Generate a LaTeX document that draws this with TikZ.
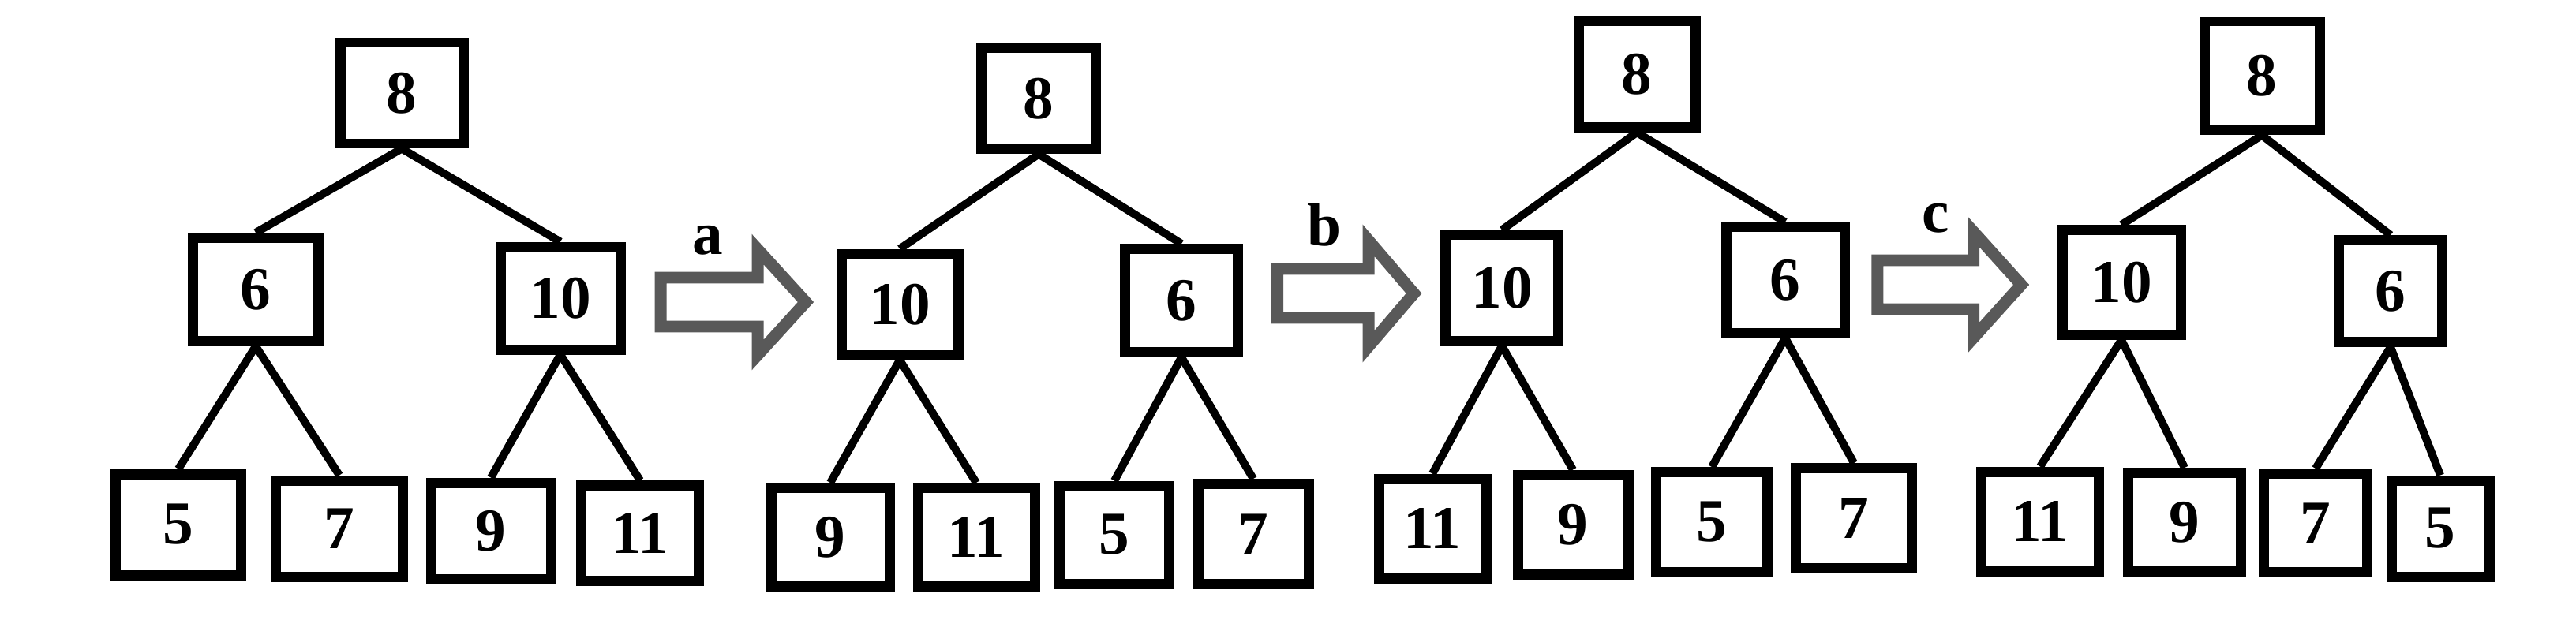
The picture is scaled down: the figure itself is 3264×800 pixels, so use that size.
\documentclass[tikz,border=0pt]{standalone}
\usepackage{fontspec}
\setmainfont{Liberation Serif}
\begin{document}
\begin{tikzpicture}[x=0.005cm,y=-0.005cm,
  box/.style={draw, rectangle, line width=0.065cm, inner sep=0pt,
    font=\fontsize{11}{13}\selectfont\bfseries,
    minimum width={(158-13)*0.005cm}, minimum height={(141-13)*0.005cm}},
  bw/.style={minimum width={(#1-13)*0.005cm}},
  bh/.style={minimum height={(#1-13)*0.005cm}},
  edge/.style={line width=0.05cm},
  lbl/.style={font=\fontsize{11}{13}\selectfont\bfseries, inner sep=0pt},
  hollow/.style={draw=black!65, line width=0.075cm, line join=miter},
  hollowarrow/.pic={\draw[hollow] (7,-31) -- (130,-31) -- (130,-67) -- (191,0) -- (130,67) -- (130,31) -- (7,31) -- cycle;}
]
\useasboundingbox (0,0) rectangle (3264,800);

% ---------- tree 1 ----------
\node[box,bw=169] (a8)  at (509,118) {8};
\node[box,bw=172,bh=144] (a6)  at (324,367) {6};
\node[box,bw=165,bh=143] (a10) at (710,378) {10};
\node[box,bw=172] (a5)  at (226,665) {5};
\node[box,bw=173,bh=135] (a7)  at (430,670) {7};
\node[box,bw=165,bh=135] (a9)  at (622,673) {9};
\node[box,bw=162,bh=134] (a11) at (811,676) {11};
\draw[edge] (a8.south) -- (a6.north);
\draw[edge] (a8.south) -- (a10.north);
\draw[edge] (a6.south) -- (a5.north);
\draw[edge] (a6.south) -- (a7.north);
\draw[edge] (a10.south) -- (a9.north);
\draw[edge] (a10.south) -- (a11.north);

% ---------- arrow a ----------
\coordinate (pa) at (830,383);
\pic at (pa) {hollowarrow};
\node[lbl] (la) at (897,305) {a};

% ---------- tree 2 ----------
\node[box] (b8)  at (1316,125) {8};
\node[box,bw=161] (b10) at (1140,386) {10};
\node[box,bw=156,bh=144] (b6)  at (1497,381) {6};
\node[box,bw=163,bh=138] (b9)  at (1052,681) {9};
\node[box,bw=161,bh=138] (b11) at (1237,681) {11};
\node[box,bw=152,bh=137] (b5)  at (1412,678) {5};
\node[box,bw=153,bh=140] (b7)  at (1588,677) {7};
\draw[edge] (b8.south) -- (b10.north);
\draw[edge] (b8.south) -- (b6.north);
\draw[edge] (b10.south) -- (b9.north);
\draw[edge] (b10.south) -- (b11.north);
\draw[edge] (b6.south) -- (b5.north);
\draw[edge] (b6.south) -- (b7.north);

% ---------- arrow b ----------
\coordinate (pb) at (1612,372);
\pic[xscale=0.94] at (pb) {hollowarrow};
\node[lbl] (lb) at (1678,285) {b};

% ---------- tree 3 ----------
\node[box,bw=161,bh=148] (c8)  at (2074,94) {8};
\node[box,bw=156,bh=147] (c10) at (1903,365) {10};
\node[box,bw=163,bh=147] (c6)  at (2262,355) {6};
\node[box,bw=149,bh=139] (c11) at (1815,670) {11};
\node[box,bw=153,bh=139] (c9)  at (1993,665) {9};
\node[box,bw=154,bh=140] (c5)  at (2169,662) {5};
\node[box,bw=160,bh=140] (c7)  at (2349,657) {7};
\draw[edge] (c8.south) -- (c10.north);
\draw[edge] (c8.south) -- (c6.north);
\draw[edge] (c10.south) -- (c11.north);
\draw[edge] (c10.south) -- (c9.north);
\draw[edge] (c6.south) -- (c5.north);
\draw[edge] (c6.south) -- (c7.north);

% ---------- arrow c ----------
\coordinate (pc) at (2372,361);
\pic[xscale=0.99] at (pc) {hollowarrow};
\node[lbl] (lc) at (2453,277) {c};

% ---------- tree 4 ----------
\node[box,bw=159,bh=151] (d8)  at (2866,96) {8};
\node[box,bw=163,bh=146] (d10) at (2688,358) {10};
\node[box,bw=144,bh=142] (d6)  at (3029,369) {6};
\node[box,bw=162,bh=139] (d11) at (2585,661) {11};
\node[box,bw=156,bh=138] (d9)  at (2768,662) {9};
\node[box,bw=144,bh=138] (d7)  at (2934,663) {7};
\node[box,bw=137,bh=135] (d5)  at (3092,670) {5};
\draw[edge] (d8.south) -- (d10.north);
\draw[edge] (d8.south) -- (d6.north);
\draw[edge] (d10.south) -- (d11.north);
\draw[edge] (d10.south) -- (d9.north);
\draw[edge] (d6.south) -- (d7.north);
\draw[edge] (d6.south) -- (d5.north);
\end{tikzpicture}
\end{document}
